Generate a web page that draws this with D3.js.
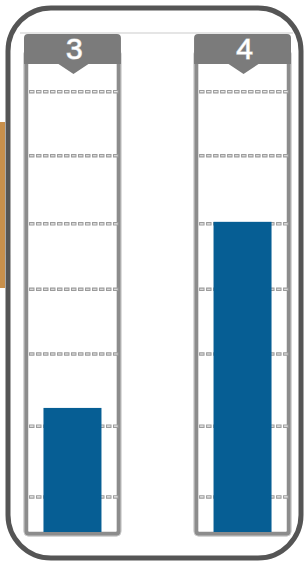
<!DOCTYPE html>
<html lang="en">
<head>
  <meta charset="UTF-8">
  <title>Column gauges</title>
  <script src="https://d3js.org/d3.v7.min.js"></script>
  <style>
    body { margin: 0; background: #fff; }
    .label {
      font-family: "Liberation Sans", Arial, sans-serif;
      font-size: 30px;
      fill: #fff;
      stroke: #d0d0d0;
      stroke-width: 1.2px;
      paint-order: stroke;
      text-anchor: middle;
    }
  </style>
</head>
<body>
<svg id="chart" width="307" height="562"></svg>
<script>
  // data
  const categories = ["3", "4"];
  const values = [1.84, 4.6];
  const gridValues = [0.52, 1.57, 2.64, 3.6, 4.57, 5.58, 6.53];

  const svg = d3.select("#chart");

  // orange side tab
  svg.append("rect").attr("x", 0).attr("y", 122).attr("width", 5).attr("height", 166)
     .attr("fill", "#c8904c");

  // outer rounded box
  svg.append("rect").attr("x", 8).attr("y", 8).attr("width", 293).attr("height", 550)
     .attr("rx", 43).attr("fill", "none").attr("stroke", "#555").attr("stroke-width", 5);

  // thin line at the top
  svg.append("line").attr("x1", 20).attr("x2", 293).attr("y1", 33).attr("y2", 33)
     .attr("stroke", "#ddd").attr("stroke-width", 1.5);

  const x = d3.scaleBand().domain(categories).range([24, 291]).paddingInner(0.43).paddingOuter(0);
  const y = d3.scaleLinear().domain([0, 7]).range([532, 60]);
  const bw = x.bandwidth();

  const cols = svg.selectAll("g.col").data(categories).join("g")
                  .attr("class", "col")
                  .attr("transform", d => "translate(" + x(d) + ",0)");

  // frame
  cols.append("rect").attr("x", 2).attr("y", 50).attr("width", bw - 4).attr("height", 484)
      .attr("rx", 3).attr("fill", "#fff").attr("stroke", "#8c8c8c").attr("stroke-width", 4.5);
  cols.append("rect").attr("x", 0).attr("y", 50).attr("width", bw).attr("height", 486)
      .attr("rx", 4).attr("fill", "none").attr("stroke", "#c8c8c8").attr("stroke-width", 1);

  // dotted grid lines (little hollow boxes)
  gridValues.forEach(g => {
    cols.append("line").attr("x1", 5).attr("x2", bw - 2).attr("y1", y(g)).attr("y2", y(g))
        .attr("stroke", "#9c9c9c").attr("stroke-width", 3.5).attr("stroke-dasharray", "5.5,1.5");
    cols.append("line").attr("x1", 5).attr("x2", bw - 2).attr("y1", y(g)).attr("y2", y(g))
        .attr("stroke", "#ededed").attr("stroke-width", 1.2).attr("stroke-dasharray", "3.5,3.5")
        .attr("stroke-dashoffset", -1);
  });

  // header with notch
  cols.append("path")
      .attr("d", "M0,64 L0,38 Q0,34 4,34 L" + (bw - 4) + ",34 Q" + bw + ",34 " + bw + ",38 L" + bw + ",64 L" +
            (bw / 2 + 16) + ",64 L" + (bw / 2 + 1) + ",74 L" + (bw / 2 - 14) + ",64 Z")
      .attr("fill", "#7b7b7b");

  cols.append("text").attr("class", "label")
      .attr("x", bw / 2 + 2).attr("y", 59)
      .text(d => d);

  // bars
  svg.selectAll("rect.bar").data(values).join("rect")
     .attr("class", "bar")
     .attr("x", (d, i) => x(categories[i]) + bw / 2 - 29)
     .attr("width", 58)
     .attr("y", d => y(d))
     .attr("height", d => y(0) - y(d))
     .attr("fill", "#065e94");
</script>
</body>
</html>
